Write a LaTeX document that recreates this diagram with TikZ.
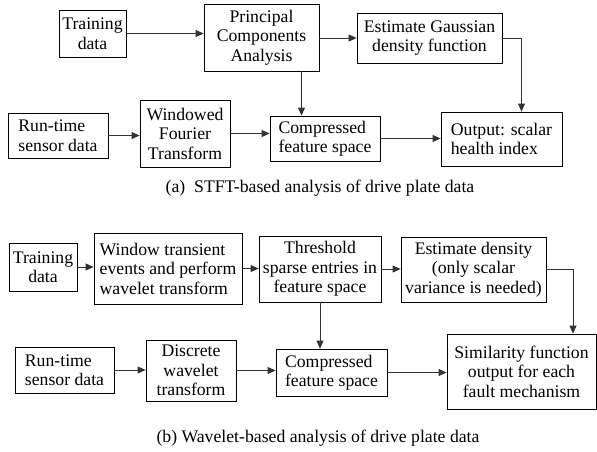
\documentclass[tikz,border=0pt]{standalone}
\usepackage{fontspec}
\setmainfont{Liberation Serif}
\usetikzlibrary{arrows.meta}
\newcommand{\ArrTip}{Triangle[length=8,width=7]}
\tikzset{blk/.style={draw,line width=.8pt,inner sep=0pt,align=center,font=\fontsize{17.7}{19.5}\selectfont},
lnk/.style={-{\ArrTip},line width=.8pt,draw=black!80},
captxt/.style={font=\fontsize{17.7}{19.5}\selectfont}}

\begin{document}
\begin{tikzpicture}[x=1pt,y=-1pt]
\useasboundingbox(0,0)rectangle(597,451);
\node[blk,minimum width=67,minimum height=47](trA)at(92.5,33.5){Training\\data};
\node[blk,minimum width=115,minimum height=67](pca)at(261.5,37.5){Principal\\Components\\Analysis};
\node[blk,minimum width=145,minimum height=50](gauss)at(429.5,38){Estimate Gaussian\\density function};
\node[blk,align=left,minimum width=100,minimum height=45](rtA)at(58,135.5){Run-time\\sensor data};
\node[blk,minimum width=90,minimum height=67](wft)at(185,133.5){Windowed\\Fourier\\Transform};
\node[blk,align=left,minimum width=110,minimum height=45](cfA)at(325,138.5){Compressed\\feature space};
\node[blk,align=left,minimum width=121,minimum height=54](out)at(501.5,139){Output: scalar\\health index};
\node[captxt](capA)at(320,188){(a)~~STFT-based analysis of drive plate data};
\draw[lnk](trA.east)--(trA.east-|pca.west);\draw[lnk](gauss.west-|pca.east)--(gauss.west);
\draw[lnk]([xshift=40]pca.south)--([xshift=40]pca.south|-cfA.north);
\draw[lnk](gauss.east)-|([xshift=20]out.north);
\draw[lnk](rtA.east)--(rtA.east-|wft.west);\draw[lnk](wft.east)--(wft.east-|cfA.west);\draw[lnk](cfA.east)--(cfA.east-|out.west);
\node[blk,minimum width=68,minimum height=48](trB)at(43,267){Training\\data};
\node[blk,align=left,minimum width=148,minimum height=71](win)at(168,268.5){Window transient\\events and perform\\wavelet transform};
\node[blk,minimum width=122,minimum height=66](thr)at(320,269){Threshold\\sparse entries in\\feature space};
\node[blk,minimum width=145,minimum height=65](est)at(473.5,269.5){Estimate density\\(only scalar\\variance is needed)};
\node[blk,align=left,minimum width=99,minimum height=46](rtB)at(64.5,370){Run-time\\sensor data};
\node[blk,minimum width=90,minimum height=61](dwt)at(191,370.5){Discrete\\wavelet\\transform};
\node[blk,align=left,minimum width=111,minimum height=47](cfB)at(331.5,372.5){Compressed\\feature space};
\node[blk,minimum width=149,minimum height=75](sim)at(521.5,371.5){Similarity function\\output for each\\fault mechanism};
\node[captxt](capB)at(318,438){(b) Wavelet-based analysis of drive plate data};
\draw[lnk](trB.east)--(trB.east-|win.west);\draw[lnk](win.east)--(win.east-|thr.west);\draw[lnk](thr.east)--(thr.east-|est.west);
\draw[lnk](thr.south)--(thr.south|-cfB.north);
\draw[lnk](est.east)-|([xshift=51.5]sim.north);
\draw[lnk](rtB.east)--(rtB.east-|dwt.west);\draw[lnk](dwt.east)--(dwt.east-|cfB.west);\draw[lnk](cfB.east)--(cfB.east-|sim.west);
\end{tikzpicture}
\end{document}
